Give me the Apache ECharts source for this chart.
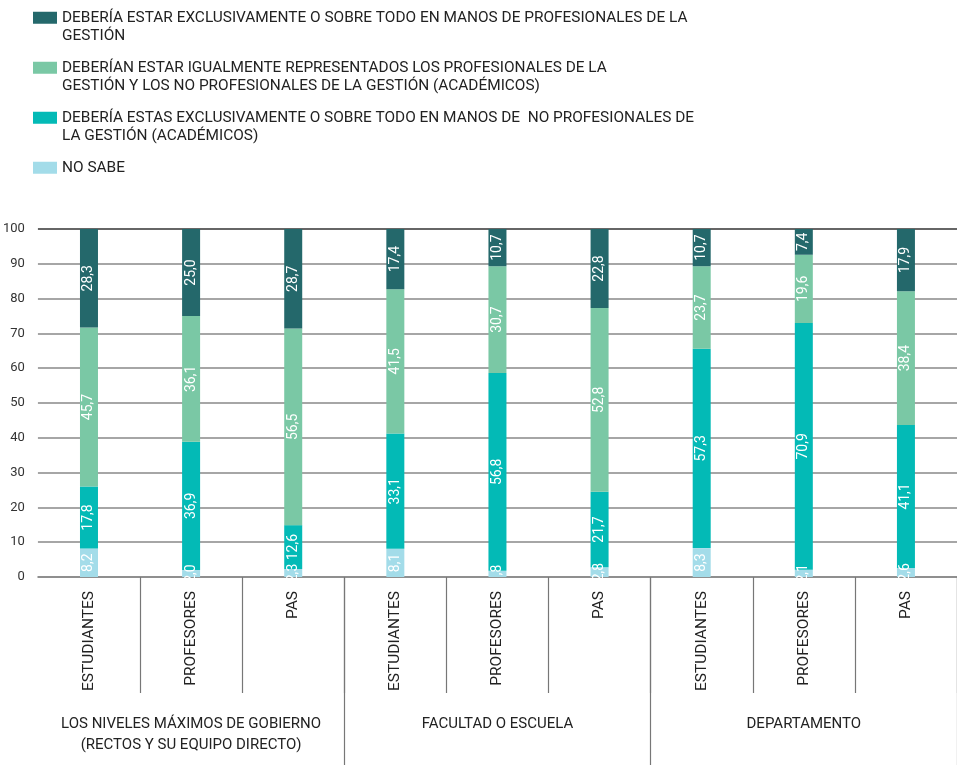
<!DOCTYPE html>
<html>
<head>
<meta charset="utf-8">
<script src="https://cdn.jsdelivr.net/npm/echarts@6/dist/echarts.min.js"></script>
<style>
  html, body { margin: 0; padding: 0; background: #fff; }
  #chart { width: 957px; height: 765px; }
</style>
</head>
<body>
<div id="chart"></div>
<script>
const categories = ["ESTUDIANTES", "PROFESORES", "PAS", "ESTUDIANTES", "PROFESORES", "PAS", "ESTUDIANTES", "PROFESORES", "PAS"];
const groups = [
  "LOS NIVELES MÁXIMOS DE GOBIERNO\n(RECTOS Y SU EQUIPO DIRECTO)",
  "FACULTAD O ESCUELA",
  "DEPARTAMENTO"
];
const seriesNames = [
  "NO SABE",
  "DEBERÍA ESTAS EXCLUSIVAMENTE O SOBRE TODO EN MANOS DE  NO PROFESIONALES DE LA GESTIÓN (ACADÉMICOS)",
  "DEBERÍAN ESTAR IGUALMENTE REPRESENTADOS LOS PROFESIONALES DE LA GESTIÓN Y LOS NO PROFESIONALES DE LA GESTIÓN (ACADÉMICOS)",
  "DEBERÍA ESTAR EXCLUSIVAMENTE O SOBRE TODO EN MANOS DE PROFESIONALES DE LA GESTIÓN"
];
// legend text broken in lines as in the original
const legendLines = {
  [seriesNames[3]]: "DEBERÍA ESTAR EXCLUSIVAMENTE O SOBRE TODO EN MANOS DE PROFESIONALES DE LA\nGESTIÓN",
  [seriesNames[2]]: "DEBERÍAN ESTAR IGUALMENTE REPRESENTADOS LOS PROFESIONALES DE LA\nGESTIÓN Y LOS NO PROFESIONALES DE LA GESTIÓN (ACADÉMICOS)",
  [seriesNames[1]]: "DEBERÍA ESTAS EXCLUSIVAMENTE O SOBRE TODO EN MANOS DE  NO PROFESIONALES DE\nLA GESTIÓN (ACADÉMICOS)",
  [seriesNames[0]]: "NO SABE\n "
};
const noSabe = [8.2, 2.0, 2.3, 8.1, 1.8, 2.8, 8.3, 2.1, 2.6];
const academicos = [17.8, 36.9, 12.6, 33.1, 56.8, 21.7, 57.3, 70.9, 41.1];
const igualmente = [45.7, 36.1, 56.5, 41.5, 30.7, 52.8, 23.7, 19.6, 38.4];
const profesionales = [28.3, 25.0, 28.7, 17.4, 10.7, 22.8, 10.7, 7.4, 17.9];
const yTicks = [0, 10, 20, 30, 40, 50, 60, 70, 80, 90, 100];

const colors = ["#a3dce9", "#03bab6", "#7ac8a5", "#24686b"];
const font = "Roboto, 'Liberation Sans', sans-serif";

const chart = echarts.init(document.getElementById("chart"));

const values = [noSabe, academicos, igualmente, profesionales];

chart.setOption({
  animation: false,
  textStyle: { fontFamily: font },
  legend: {
    orient: "vertical",
    left: 33,
    top: -10,
    padding: 0,
    itemGap: -5.5,
    itemWidth: 24,
    itemHeight: 12,
    icon: "rect",
    data: [seriesNames[3], seriesNames[2], seriesNames[1], seriesNames[0]],
    formatter: (name) => " \n" + legendLines[name],
    textStyle: { fontSize: 15.4, color: "#222", lineHeight: 18.5, fontFamily: font }
  },
  grid: { left: 37, right: 0, top: 229, bottom: 188 },
  xAxis: [
    {
      type: "category",
      data: categories,
      position: "bottom",
      axisLine: { show: true, lineStyle: { color: "#888", width: 1.5 } },
      axisTick: {
        show: true,
        length: 116,
        interval: (i) => i !== 0, // no separator on the left edge
        lineStyle: { color: "#777", width: 1.2 }
      },
      axisLabel: {
        rotate: 90,
        interval: 0,
        margin: 14,
        fontSize: 15.5,
        color: "#222",
        fontFamily: font
      }
    },
    {
      type: "category",
      data: groups,
      position: "bottom",
      axisLine: { show: false },
      axisTick: {
        show: true,
        length: 190,
        interval: (i) => i !== 0,
        lineStyle: { color: "#777", width: 1.2 }
      },
      axisLabel: {
        interval: 0,
        margin: 137,
        fontSize: 15,
        lineHeight: 21,
        color: "#222",
        fontFamily: font
      }
    }
  ],
  yAxis: {
    type: "value",
    min: yTicks[0],
    max: yTicks[yTicks.length - 1],
    interval: 10,
    axisLine: { show: false },
    axisTick: { show: false },
    axisLabel: { fontSize: 13, color: "#333", margin: 13, fontFamily: font },
    splitLine: {
      lineStyle: {
        color: ["#888", "#888", "#888", "#888", "#888", "#888", "#888", "#888", "#888", "#888", "#333"],
        width: 1.5
      }
    }
  },
  series: seriesNames.map((name, k) => ({
    name: name,
    type: "bar",
    stack: "total",
    xAxisIndex: 0,
    barWidth: 18,
    data: values[k],
    itemStyle: { color: colors[k] },
    label: {
      show: true,
      position: "inside",
      rotate: 90,
      overflow: "none",
      color: "#fff",
      fontSize: 14,
      fontFamily: font,
      formatter: (p) => p.value.toFixed(1).replace(".", ",")
    }
  }))
});
</script>
</body>
</html>
